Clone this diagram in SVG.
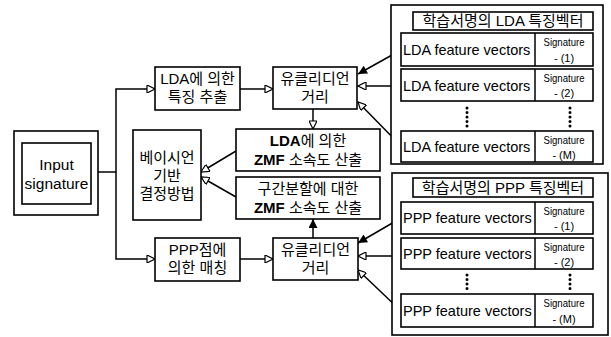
<svg xmlns="http://www.w3.org/2000/svg" width="611" height="337" viewBox="0 0 611 337">
<style>
.b{fill:#fff;stroke:#000;stroke-width:1.6}
.t{font-family:"Liberation Sans","Noto Sans CJK KR",sans-serif;font-size:15px;text-anchor:middle;fill:#000}
.bd{font-weight:bold}
.r{font-family:"Liberation Sans","Noto Sans CJK KR",sans-serif;font-size:14.5px;fill:#000}
.s{font-family:"Liberation Sans",sans-serif;font-size:11px;text-anchor:middle;fill:#000}
.c{fill:none;stroke:#000;stroke-width:1.5}
.o{marker-end:url(#open)}
.f{marker-end:url(#fill)}
.d{fill:none;stroke:#000;stroke-width:3;stroke-linecap:round;stroke-dasharray:0 4.5}
</style>
<defs>
<marker id="open" viewBox="0 0 10 10" refX="10" refY="5" markerWidth="10" markerHeight="8" orient="auto" markerUnits="userSpaceOnUse"><path d="M0,0 L10,5 L0,10 z" fill="#fff" stroke="#000" stroke-width="1.5"/></marker>
<marker id="fill" viewBox="0 0 10 10" refX="10" refY="5" markerWidth="11" markerHeight="9" orient="auto" markerUnits="userSpaceOnUse"><path d="M0,0 L10,5 L0,10 z" fill="#000"/></marker>
</defs>
<rect width="611" height="337" fill="#fff"/>

<g id="connectors">
<path class="c" d="M98,172 H116"/>
<path class="c o" d="M116,172 V89 H155"/>
<path class="c o" d="M116,172 V259 H155"/>
<path class="c o" d="M240,89 H273"/>
<path class="c o" d="M240,259 H273"/>
<path class="c o" d="M313,109 V129"/>
<path class="c f" d="M313,238 V219"/>
<path class="c o" d="M236,151 L201,172"/>
<path class="c o" d="M236,197 L201,177"/>
<path class="c f" d="M401,50 L358,74"/>
<path class="c o" d="M401,86 L358,86"/>
<path class="c o" d="M401,146 L358,102"/>
<path class="c f" d="M401,218 L358,243"/>
<path class="c o" d="M401,256 L358,256"/>
<path class="c o" d="M401,311 L358,270"/>
</g>

<g id="input">
<rect class="b" x="14" y="131" width="84" height="84"/>
<rect class="b" x="22" y="143" width="69" height="61"/>
<text class="t" x="56.5" y="170" style="font-size:15.5px">Input</text>
<text class="t" x="56.5" y="189" style="font-size:15.5px">signature</text>
</g>

<g id="lda-extract">
<rect class="b" x="155" y="67" width="85" height="43"/>
<text class="t" x="197.5" y="84">LDA에 의한</text>
<text class="t" x="197.5" y="102">특징 추출</text>
</g>

<g id="ppp-match">
<rect class="b" x="155" y="238" width="85" height="43"/>
<text class="t" x="197.5" y="255">PPP점에</text>
<text class="t" x="197.5" y="273">의한 매칭</text>
</g>

<g id="bayes">
<rect class="b" x="133" y="130" width="68" height="90"/>
<text class="t" x="167" y="163">베이시언</text>
<text class="t" x="167" y="181">기반</text>
<text class="t" x="167" y="199">결정방법</text>
</g>

<g id="euclid-top">
<rect class="b" x="273" y="67" width="84" height="42"/>
<text class="t" x="315" y="84">유클리디언</text>
<text class="t" x="315" y="102">거리</text>
</g>

<g id="euclid-bottom">
<rect class="b" x="273" y="238" width="85" height="42"/>
<text class="t" x="315.5" y="255">유클리디언</text>
<text class="t" x="315.5" y="273">거리</text>
</g>

<g id="zmf-lda">
<rect class="b" x="236" y="129" width="144" height="42"/>
<text class="t" x="308" y="146"><tspan class="bd">LDA</tspan>에 의한</text>
<text class="t" x="308" y="165"><tspan class="bd">ZMF</tspan> 소속도 산출</text>
</g>

<g id="zmf-ppp">
<rect class="b" x="236" y="177" width="144" height="42"/>
<text class="t" x="308" y="194">구간분할에 대한</text>
<text class="t" x="308" y="213"><tspan class="bd">ZMF</tspan> 소속도 산출</text>
</g>

<g id="lda-db">
<rect class="b" x="391" y="5" width="212" height="159"/>
<rect class="b" x="413" y="12" width="180" height="18"/>
<text class="t" x="503" y="26">학습서명의 LDA 특징벡터</text>
<rect class="b" x="401" y="33" width="192" height="33"/>
<line class="c" x1="535" y1="33" x2="535" y2="66"/>
<text class="r" x="403" y="55">LDA feature vectors</text>
<text class="s" x="564" y="46" textLength="41" lengthAdjust="spacingAndGlyphs">Signature</text>
<text class="s" x="564" y="62">- (1)</text>
<rect class="b" x="401" y="69" width="192" height="32"/>
<line class="c" x1="535" y1="69" x2="535" y2="101"/>
<text class="r" x="403" y="91">LDA feature vectors</text>
<text class="s" x="564" y="82" textLength="41" lengthAdjust="spacingAndGlyphs">Signature</text>
<text class="s" x="564" y="97">- (2)</text>
<line class="d" x1="467" y1="108" x2="467" y2="127"/>
<line class="d" x1="570" y1="108" x2="570" y2="127"/>
<rect class="b" x="401" y="131" width="192" height="31"/>
<line class="c" x1="535" y1="131" x2="535" y2="162"/>
<text class="r" x="403" y="152">LDA feature vectors</text>
<text class="s" x="564" y="144" textLength="41" lengthAdjust="spacingAndGlyphs">Signature</text>
<text class="s" x="564" y="159">- (M)</text>
</g>

<g id="ppp-db">
<rect class="b" x="392" y="173" width="216" height="162"/>
<rect class="b" x="413" y="178" width="180" height="19"/>
<text class="t" x="503" y="193">학습서명의 PPP 특징벡터</text>
<rect class="b" x="401" y="202" width="192" height="32"/>
<line class="c" x1="535" y1="202" x2="535" y2="234"/>
<text class="r" x="403" y="223">PPP feature vectors</text>
<text class="s" x="564" y="215" textLength="41" lengthAdjust="spacingAndGlyphs">Signature</text>
<text class="s" x="564" y="230">- (1)</text>
<rect class="b" x="401" y="238" width="192" height="31"/>
<line class="c" x1="535" y1="238" x2="535" y2="269"/>
<text class="r" x="403" y="259">PPP feature vectors</text>
<text class="s" x="564" y="251" textLength="41" lengthAdjust="spacingAndGlyphs">Signature</text>
<text class="s" x="564" y="266">- (2)</text>
<line class="d" x1="467" y1="275" x2="467" y2="293"/>
<line class="d" x1="570" y1="275" x2="570" y2="293"/>
<rect class="b" x="401" y="294" width="192" height="33"/>
<line class="c" x1="535" y1="294" x2="535" y2="327"/>
<text class="r" x="403" y="316">PPP feature vectors</text>
<text class="s" x="564" y="307" textLength="41" lengthAdjust="spacingAndGlyphs">Signature</text>
<text class="s" x="564" y="323">- (M)</text>
</g>
</svg>
